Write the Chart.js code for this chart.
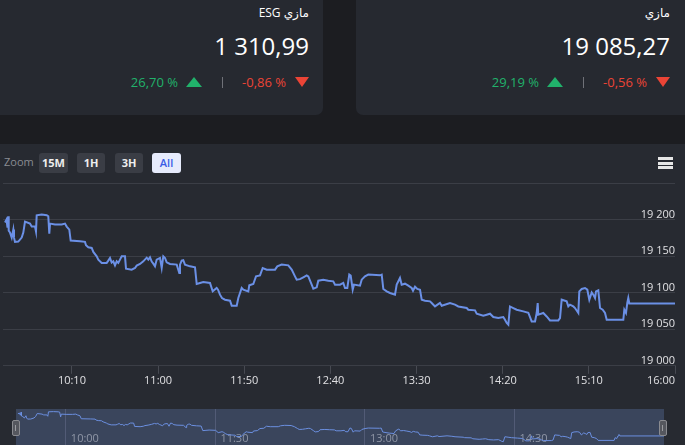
<!DOCTYPE html>
<html lang="ar">
<head>
<meta charset="utf-8">
<title>مازي</title>
<script src="https://cdn.jsdelivr.net/npm/chart.js@4.4.1/dist/chart.umd.min.js"></script>
<style>
  html, body { margin: 0; padding: 0; }
  body {
    width: 685px; height: 445px; overflow: hidden; position: relative;
    background: #1c1d21; font-family: 'Open Sans', 'DejaVu Sans', sans-serif;
  }
  .card { position: absolute; top: -10px; height: 125px; background: #262930; border-radius: 7px; }
  .card-left { left: -20px; width: 343px; }
  .card-right { left: 356px; width: 345px; }
  .title { position: absolute; top: 4px; font-size: 12px; color: #fff; white-space: nowrap; direction: rtl; }
  .price { position: absolute; top: 29px; font-size: 24px; color: #fff; white-space: nowrap; }
  .changes { position: absolute; top: 73px; height: 18px; display: flex; align-items: center; font-size: 13px; white-space: nowrap; }
  .up { color: #21b26b; }
  .down { color: #eb4436; }
  .tri-up { width: 0; height: 0; border-left: 8px solid transparent; border-right: 8px solid transparent; border-bottom: 10px solid #21b26b; margin-left: 8px; }
  .tri-down { width: 0; height: 0; border-left: 7.5px solid transparent; border-right: 7.5px solid transparent; border-top: 10px solid #eb4436; margin-left: 9px; }
  .sep { width: 1px; height: 11px; background: #6f7178; margin: 0 19px 0 20px; }

  .panel { position: absolute; left: 0; top: 144px; width: 685px; height: 301px; background: #272a31; }
  .zoom-label { position: absolute; left: 4px; top: 154px; font-size: 11px; color: #8a8c93; }
  .btn { position: absolute; top: 153px; height: 20px; line-height: 20px; border-radius: 3px; background: #3a3d45; color: #eee; font-size: 11px; font-weight: 700; text-align: center; }
  .btn.active { background: #e6ebfc; color: #3b5ce6; font-weight: 600; }
  .menu { position: absolute; left: 658px; top: 157px; width: 15px; }
  .menu div { height: 3px; background: #e6e6e6; margin-bottom: 1.6px; }
  #mainChart { position: absolute; left: 0; top: 170px; }
  #navChart { position: absolute; left: 0; top: 409px; }
  .handle { position: absolute; top: 420px; width: 6px; height: 14px; background: #55575e; border: 1px solid #8a8b90; border-radius: 2px; }
  .handle div { position: absolute; left: 2px; top: 4px; width: 1px; height: 6px; background: #9a9ba0; }
</style>
</head>
<body>
<div class="card card-left"></div>
<div class="card card-right"></div>

<div class="title" style="right:376px">مازي ESG</div>
<div class="price" style="right:376px">1 310,99</div>
<div class="changes" style="right:376px">
  <span class="up">26,70 %</span><span class="tri-up"></span>
  <span class="sep"></span>
  <span class="down">-0,86 %</span><span class="tri-down"></span>
</div>

<div class="title" style="right:15px">مازي</div>
<div class="price" style="right:15px">19 085,27</div>
<div class="changes" style="right:15px">
  <span class="up">29,19 %</span><span class="tri-up"></span>
  <span class="sep"></span>
  <span class="down">-0,56 %</span><span class="tri-down"></span>
</div>

<div class="panel"></div>
<div class="zoom-label">Zoom</div>
<div class="btn" style="left:39px;width:29px">15M</div>
<div class="btn" style="left:77px;width:28px">1H</div>
<div class="btn" style="left:115px;width:28px">3H</div>
<div class="btn active" style="left:152px;width:29px">All</div>
<div class="menu"><div></div><div></div><div></div></div>

<canvas id="mainChart" width="685" height="218"></canvas>
<canvas id="navChart" width="685" height="40"></canvas>
<div class="handle" style="left:12px"><div></div></div>
<div class="handle" style="left:659px"><div></div></div>

<script>
// intraday series (time of quote, index level)
const times = [
    '09:31:10', '09:32:02', '09:32:37', '09:33:05', '09:33:19', '09:34:04', '09:35:03', '09:35:59', '09:36:23', '09:36:58',
    '09:38:53', '09:40:51', '09:41:47', '09:42:46', '09:45:40', '09:46:40', '09:48:34', '09:49:09', '09:49:33', '09:52:28',
    '09:55:22', '09:56:17', '09:56:52', '09:57:17', '10:00:11', '10:04:04', '10:05:59', '10:06:58', '10:08:29', '10:09:17',
    '10:14:41', '10:17:35', '10:18:10', '10:19:30', '10:21:29', '10:22:25', '10:24:23', '10:25:19', '10:27:17', '10:30:11',
    '10:31:07', '10:32:06', '10:33:05', '10:34:01', '10:35:00', '10:35:59', '10:36:55', '10:37:54', '10:38:53', '10:40:48',
    '10:41:23', '10:44:41', '10:46:37', '10:47:35', '10:49:31', '10:51:25', '10:53:24', '10:54:20', '10:55:19', '10:56:18',
    '10:57:14', '10:58:13', '10:59:12', '11:01:07', '11:02:06', '11:03:02', '11:04:01', '11:05:00', '11:06:55', '11:10:49',
    '11:12:19', '11:12:43', '11:13:43', '11:14:38', '11:15:37', '11:18:32', '11:21:26', '11:22:25', '11:24:20', '11:26:14',
    '11:30:08', '11:31:42', '11:34:01', '11:34:47', '11:35:56', '11:37:06', '11:38:50', '11:41:45', '11:42:44', '11:45:38',
    '11:46:34', '11:48:32', '11:49:28', '11:52:22', '11:52:56', '11:55:16', '11:56:50', '11:59:09', '12:00:43', '12:03:02',
    '12:07:52', '12:09:11', '12:11:44', '12:15:35', '12:17:33', '12:19:28', '12:20:27', '12:22:22', '12:24:17', '12:26:15',
    '12:27:11', '12:29:09', '12:30:05', '12:32:04', '12:32:59', '12:35:53', '12:38:47', '12:41:41', '12:42:41', '12:45:35',
    '12:47:29', '12:48:29', '12:49:49', '12:50:58', '12:51:47', '12:52:57', '12:53:42', '12:57:11', '12:58:10', '13:00:05',
    '13:02:00', '13:08:47', '13:09:47', '13:10:43', '13:12:41', '13:14:36', '13:17:30', '13:18:29', '13:20:24', '13:21:23',
    '13:23:18', '13:25:13', '13:27:11', '13:27:57', '13:29:07', '13:30:26', '13:32:01', '13:33:00', '13:34:55', '13:37:49',
    '13:38:48', '13:40:43', '13:43:37', '13:44:37', '13:49:25', '13:52:19', '13:54:14', '13:59:07', '14:00:02', '14:03:56',
    '14:04:55', '14:08:44', '14:10:43', '14:12:38', '14:14:33', '14:17:27', '14:20:21', '14:21:20', '14:22:20', '14:23:16',
    '14:24:14', '14:26:10', '14:28:08', '14:31:58', '14:34:52', '14:36:50', '14:38:46', '14:39:44', '14:40:19', '14:40:40',
    '14:43:34', '14:45:32', '14:47:27', '14:52:16', '14:53:16', '14:54:14', '14:57:09', '14:58:05', '14:59:04', '15:00:59',
    '15:01:58', '15:03:53', '15:04:28', '15:05:52', '15:07:46', '15:09:07', '15:10:16', '15:11:40', '15:12:35', '15:13:35',
    '15:14:10', '15:15:29', '15:16:29', '15:18:02', '15:19:23', '15:20:22', '15:30:00', '15:30:35', '15:31:34', '15:32:19',
    '15:32:54', '15:33:29', '16:00:00'
];
const prices = [
    19195.9, 19200.0, 19189.0, 19204.5, 19184.9, 19182.2, 19175.3, 19186.3, 19175.3, 19169.5,
    19169.9, 19175.3, 19182.2, 19197.3, 19194.5, 19190.4, 19190.4, 19183.6, 19205.9, 19206.9,
    19205.9, 19204.5, 19180.8, 19194.5, 19193.2, 19193.2, 19194.5, 19190.4, 19186.3, 19171.2,
    19170.3, 19169.5, 19164.8, 19162.1, 19161.2, 19155.8, 19149.7, 19145.2, 19140.7, 19140.7,
    19143.8, 19147.5, 19141.1, 19142.9, 19137.4, 19142.9, 19140.7, 19145.2, 19149.7, 19149.7,
    19132.9, 19131.5, 19133.8, 19137.0, 19139.3, 19142.9, 19147.9, 19145.2, 19148.4, 19142.5,
    19139.7, 19136.0, 19145.2, 19147.5, 19133.8, 19149.7, 19147.5, 19141.5, 19139.3, 19138.4,
    19127.0, 19138.4, 19143.8, 19144.5, 19138.4, 19136.0, 19134.7, 19111.9, 19113.3, 19114.7,
    19113.3, 19101.8, 19106.4, 19104.1, 19097.3, 19092.7, 19090.4, 19089.0, 19082.2, 19082.2,
    19092.7, 19106.4, 19104.1, 19101.8, 19110.0, 19111.9, 19122.3, 19123.7, 19133.8, 19131.5,
    19131.5, 19136.0, 19138.4, 19137.4, 19131.5, 19122.3, 19117.8, 19118.5, 19121.0, 19123.7,
    19122.3, 19111.0, 19105.5, 19107.3, 19116.4, 19117.8, 19116.4, 19115.5, 19111.0, 19111.0,
    19113.3, 19106.4, 19106.4, 19124.7, 19123.3, 19104.1, 19111.0, 19109.6, 19117.8, 19122.3,
    19124.7, 19123.7, 19124.7, 19105.1, 19101.8, 19099.6, 19097.3, 19111.0, 19120.1, 19111.0,
    19112.3, 19109.6, 19106.4, 19102.7, 19108.2, 19105.1, 19104.1, 19090.4, 19089.0, 19088.1,
    19085.9, 19081.2, 19085.9, 19082.2, 19085.9, 19083.6, 19081.2, 19079.0, 19076.7, 19075.8,
    19071.2, 19068.5, 19069.9, 19071.2, 19066.7, 19065.3, 19066.7, 19063.0, 19058.5, 19056.2,
    19081.2, 19079.0, 19076.7, 19074.4, 19072.6, 19060.7, 19060.7, 19072.2, 19085.9, 19069.9,
    19072.2, 19067.5, 19062.1, 19062.1, 19065.3, 19090.4, 19088.1, 19081.2, 19083.6, 19081.2,
    19079.0, 19072.2, 19101.8, 19105.1, 19106.4, 19104.1, 19090.4, 19100.4, 19097.3, 19092.7,
    19101.8, 19103.2, 19079.0, 19076.7, 19072.2, 19063.0, 19063.0, 19076.7, 19072.2, 19085.9,
    19092.7, 19085.27, 19085.27
];

const sessionStart = '09:30';
const sessionEnd = '16:00';
const xTickLabels = ['10:10', '11:00', '11:50', '12:40', '13:30', '14:20', '15:10', '16:00'];
const yTicks = [19000, 19050, 19100, 19150, 19200, 19250];
const navTickLabels = ['10:00', '11:30', '13:00', '14:30'];
const navRange = [19020, 19220];
const navLabelLevel = 19105; // navigator time labels hang from this level

Chart.defaults.font.family = "'Open Sans', 'DejaVu Sans', sans-serif";

function toMinutes(t) {
    const p = t.split(':').map(Number);
    return p[0] * 60 + p[1] + (p[2] || 0) / 60;
}

function fmtPrice(v) {
    return Math.floor(v / 1000) + ' ' + String(Math.round(v % 1000)).padStart(3, '0');
}

const points = times.map((t, i) => ({ x: toMinutes(t), y: prices[i] }));

// main chart
new Chart(document.getElementById('mainChart'), {
    type: 'line',
    data: {
        datasets: [{ data: points, borderColor: '#6b90e6', borderWidth: 2, pointRadius: 0, tension: 0, fill: false }]
    },
    options: {
        responsive: false,
        animation: false,
        layout: { padding: { top: 13, right: 10, left: 3, bottom: 1 } },
        plugins: { legend: { display: false }, tooltip: { enabled: false } },
        scales: {
            x: {
                type: 'linear',
                min: toMinutes(sessionStart),
                max: toMinutes(sessionEnd),
                afterBuildTicks: function (s) {
                    // blank tick at the open so the last label sits flush right
                    s.ticks = [{ value: toMinutes(sessionStart) }].concat(xTickLabels.map(l => ({ value: toMinutes(l) })));
                },
                grid: {
                    drawOnChartArea: false,
                    tickLength: 8,
                    tickColor: c => c.index === 0 ? 'transparent' : '#474a52'
                },
                border: { color: '#3b3e46' },
                ticks: {
                    align: 'inner', autoSkip: false, maxRotation: 0, padding: 0,
                    color: '#e0e0e3', font: { size: 11 },
                    callback: (v, i) => i === 0 ? '' : xTickLabels[i - 1]
                }
            },
            y: {
                position: 'right',
                min: yTicks[0],
                max: yTicks[yTicks.length - 1],
                afterBuildTicks: function (s) { s.ticks = yTicks.map(v => ({ value: v })); },
                grid: { color: '#3b3e46', drawTicks: false },
                border: { display: false },
                ticks: {
                    mirror: true, padding: 0, labelOffset: -5,
                    color: '#e0e0e3', font: { size: 11 },
                    callback: v => v === yTicks[yTicks.length - 1] ? '' : fmtPrice(v)
                }
            }
        }
    }
});

// navigator
const navMask = {
    id: 'navMask',
    beforeDraw(chart) {
        const a = chart.chartArea;
        const ctx = chart.ctx;
        ctx.save();
        ctx.fillStyle = '#3a455c';
        ctx.fillRect(a.left, a.top, a.right - a.left, a.bottom - a.top);
        ctx.restore();
    }
};

new Chart(document.getElementById('navChart'), {
    type: 'line',
    data: {
        datasets: [{ data: points, borderColor: '#6b8fe0', borderWidth: 1, pointRadius: 0, tension: 0 }]
    },
    options: {
        responsive: false,
        animation: false,
        layout: { padding: { left: 16, right: 21, top: 0, bottom: 0 } },
        plugins: { legend: { display: false }, tooltip: { enabled: false } },
        scales: {
            x: {
                type: 'linear',
                position: { y: navLabelLevel },
                min: toMinutes(sessionStart),
                max: toMinutes(sessionEnd),
                afterBuildTicks: function (s) { s.ticks = navTickLabels.map(l => ({ value: toMinutes(l) })); },
                grid: { color: '#525b76', drawTicks: false },
                border: { display: false },
                ticks: {
                    align: 'start', labelOffset: 5, padding: 0, autoSkip: false, maxRotation: 0,
                    color: '#8f96a6', font: { size: 11 },
                    callback: (v, i) => navTickLabels[i]
                }
            },
            y: { display: false, min: navRange[0], max: navRange[1] }
        }
    },
    plugins: [navMask]
});
</script>
</body>
</html>
